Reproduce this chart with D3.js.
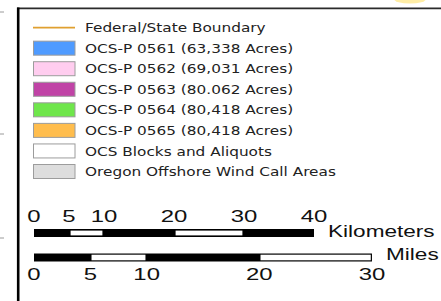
<!DOCTYPE html>
<html lang="en">
<head>
    <meta charset="UTF-8" />
    <title>Legend and Scale Bar</title>
    <script src="https://d3js.org/d3.v7.min.js"></script>
    <style>
        body { margin: 0; background: #ffffff; }
        svg { display: block; }
    </style>
</head>

<body>
    <script>
        var w = 441;
        var h = 301;

        // Legend entries (first one is drawn as a line)
        var legendLabels = [
            "Federal/State Boundary",
            "OCS-P 0561 (63,338 Acres)",
            "OCS-P 0562 (69,031 Acres)",
            "OCS-P 0563 (80.062 Acres)",
            "OCS-P 0564 (80,418 Acres)",
            "OCS-P 0565 (80,418 Acres)",
            "OCS Blocks and Aliquots",
            "Oregon Offshore Wind Call Areas"
        ];
        var legendColors = ["#e0a030", "#4f9bff", "#ffcdef", "#c043a6", "#6fe64b", "#ffbd4d", "#ffffff", "#dddddd"];

        // Scale bar ticks
        var kmTicks = [0, 5, 10, 20, 30, 40];
        var mileTicks = [0, 5, 10, 20, 30];
        var kmPerMile = 1.609344;

        var legendStretch = 1.225;
        var barStretch = 1.45;
        var unitStretch = 1.37;

        var svg = d3.select("body")
            .append("svg")
            .attr("width", w)
            .attr("height", h);

        // faint yellow shape peeking in at the top right
        svg.append("ellipse")
            .attr("cx", 410)
            .attr("cy", -1)
            .attr("rx", 16)
            .attr("ry", 4.5)
            .attr("fill", "#ffe680")
            .attr("opacity", 0.7);

        // tiny grey marks on the left edge
        [12, 134, 238].forEach(function(y) {
            svg.append("line")
                .attr("x1", 0).attr("x2", 4)
                .attr("y1", y).attr("y2", y)
                .attr("stroke", "#9a9a9a")
                .attr("stroke-width", 1);
        });

        // frame
        svg.append("line")
            .attr("x1", 17).attr("x2", w)
            .attr("y1", 8.4).attr("y2", 8.4)
            .attr("stroke", "#2b2b2b")
            .attr("stroke-width", 1.8);

        svg.append("line")
            .attr("x1", 18.2).attr("x2", 18.2)
            .attr("y1", 7.5).attr("y2", h)
            .attr("stroke", "#000")
            .attr("stroke-width", 2.6);

        // Legend rows
        var rowY = d3.scaleLinear()
            .domain([0, legendLabels.length - 1])
            .range([27.6, 171.5]);

        var rows = svg.selectAll("g.row")
            .data(legendLabels)
            .enter()
            .append("g")
            .attr("class", "row");

        rows.each(function(d, i) {
            var g = d3.select(this);
            if (i === 0) {
                g.append("line")
                    .attr("x1", 33).attr("x2", 75)
                    .attr("y1", rowY(i)).attr("y2", rowY(i))
                    .attr("stroke", legendColors[i])
                    .attr("stroke-width", 1.6);
            } else {
                g.append("rect")
                    .attr("x", 33.5)
                    .attr("y", rowY(i) - 7)
                    .attr("width", 41.5)
                    .attr("height", 14)
                    .attr("fill", legendColors[i])
                    .attr("stroke", "#9c9c9c")
                    .attr("stroke-width", 1);
            }
        });

        rows.append("text")
            .attr("transform", function(d, i) {
                return "translate(85," + (rowY(i) + 4.6) + ") scale(" + legendStretch + ",1)";
            })
            .attr("font-family", "Verdana, 'DejaVu Sans', sans-serif")
            .attr("font-size", "12.5px")
            .attr("fill", "#222")
            .text(function(d) { return d; });

        // Scale bars
        var kmScale = d3.scaleLinear()
            .domain([0, 40])
            .range([34, 34 + 40 * 7]);

        var mileScale = d3.scaleLinear()
            .domain([0, 30])
            .range([34, 34 + 30 * kmPerMile * 7]);

        function drawBar(ticks, scale, y, barH, inset, labelY, unit, unitX, unitY) {
            var last = ticks[ticks.length - 1];
            svg.append("rect")
                .attr("x", scale(0))
                .attr("y", y)
                .attr("width", scale(last) - scale(0))
                .attr("height", barH)
                .attr("fill", "#000");

            // every second segment is hollow
            var segs = d3.pairs(ticks).filter(function(p, i) { return i % 2 === 1; });
            svg.selectAll(null)
                .data(segs)
                .enter()
                .append("rect")
                .attr("x", function(p) { return scale(p[0]) + inset; })
                .attr("y", y + inset)
                .attr("width", function(p) { return scale(p[1]) - scale(p[0]) - 2 * inset; })
                .attr("height", barH - 2 * inset)
                .attr("fill", "#fff");

            svg.selectAll(null)
                .data(ticks)
                .enter()
                .append("text")
                .attr("transform", function(d) {
                    return "translate(" + scale(d) + "," + labelY + ") scale(" + barStretch + ",1)";
                })
                .attr("text-anchor", "middle")
                .attr("font-family", "Arial, 'Liberation Sans', sans-serif")
                .attr("font-size", "16.5px")
                .attr("fill", "#111")
                .text(function(d) { return d; });

            svg.append("text")
                .attr("transform", "translate(" + unitX + "," + unitY + ") scale(" + unitStretch + ",1)")
                .attr("font-family", "Arial, 'Liberation Sans', sans-serif")
                .attr("font-size", "16.5px")
                .attr("fill", "#111")
                .text(unit);
        }

        drawBar(kmTicks, kmScale, 229, 8, 1.6, 221.7, "Kilometers", 328, 237);
        drawBar(mileTicks, mileScale, 253.5, 8, 1.2, 280, "Miles", 386, 260);
    </script>
</body>
</html>
